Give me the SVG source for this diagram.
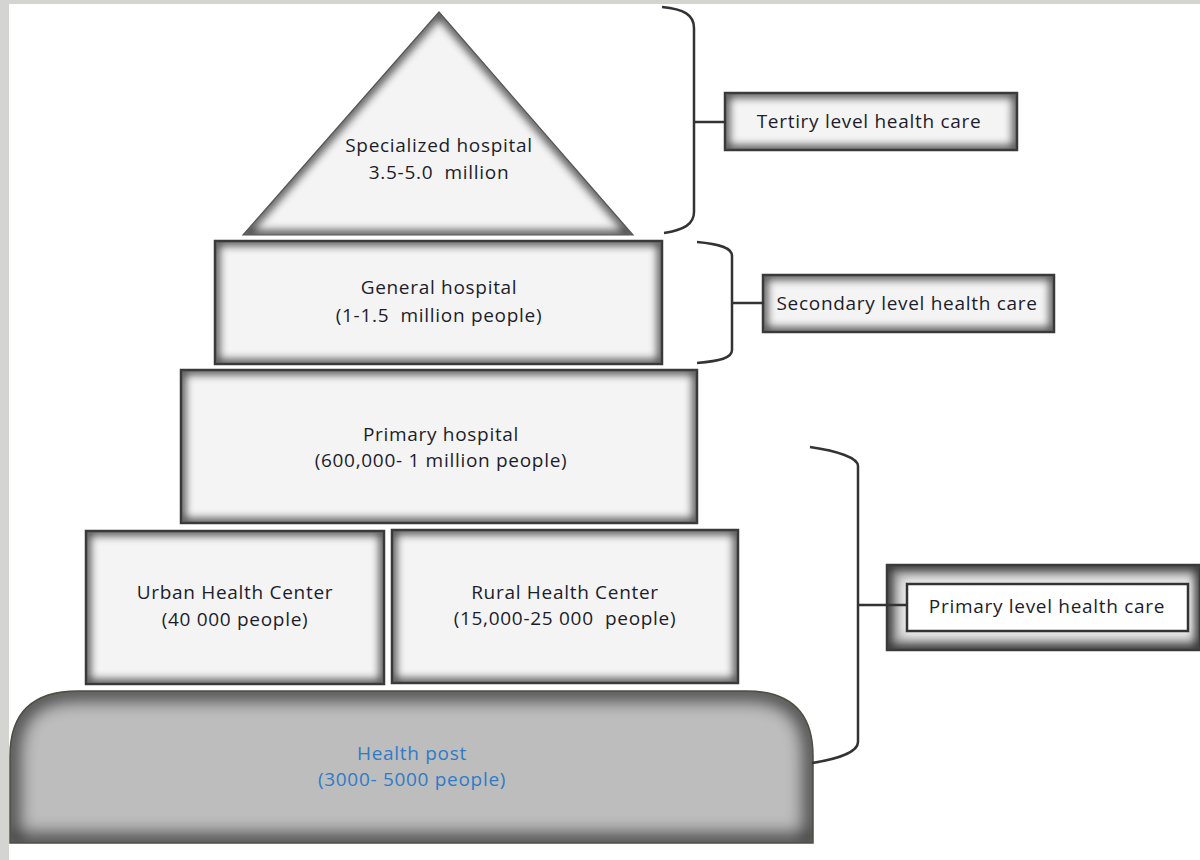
<svg xmlns="http://www.w3.org/2000/svg" width="1200" height="860" viewBox="0 0 1200 860">
<defs>
<filter id="blur" x="-10%" y="-10%" width="120%" height="120%"><feGaussianBlur stdDeviation="4"/></filter>
<filter id="blurBig" x="-10%" y="-10%" width="120%" height="120%"><feGaussianBlur stdDeviation="9"/></filter>
<filter id="glow" x="-20%" y="-50%" width="140%" height="200%"><feGaussianBlur stdDeviation="6"/></filter>
<clipPath id="cTri"><polygon points="439,12 633,235 243,235"/></clipPath>
<clipPath id="cGen"><rect x="215" y="241" width="447" height="123"/></clipPath>
<clipPath id="cPri"><rect x="181" y="370" width="516" height="153"/></clipPath>
<clipPath id="cUrb"><rect x="86" y="531" width="298" height="153"/></clipPath>
<clipPath id="cRur"><rect x="392" y="530" width="346" height="153"/></clipPath>
<clipPath id="cHP"><path d="M10 843 L10 756 Q10 691 78 691 L746 691 Q813 691 813 756 L813 843 Z"/></clipPath>
<clipPath id="cTer"><rect x="725" y="93" width="292" height="57"/></clipPath>
<clipPath id="cSec"><rect x="763" y="275" width="291" height="57"/></clipPath>
<clipPath id="cPL"><rect x="887" y="565" width="313" height="85"/></clipPath>
</defs>
<style>
.fillL{fill:#f4f4f4}
.sh{fill:none;stroke:#000;stroke-width:9;opacity:0.7;filter:url(#blur)}
.shB{fill:none;stroke:#000;stroke-width:16;opacity:0.75;filter:url(#blurBig)}
.edge{fill:none;stroke:#3a3a3a;stroke-width:2.5}
.t{font-family:"Open Sans","Liberation Sans",sans-serif;font-size:19px;letter-spacing:0.7px;fill:#1c1c2c;text-anchor:middle}
.blue{fill:#2e7bc8}
.br{fill:none;stroke:#333;stroke-width:2.5}
</style>
<rect x="0" y="0" width="1200" height="860" fill="#d4d4d0"/>
<rect x="9" y="4" width="1191" height="856" fill="#ffffff"/>

<g id="specialized">
<polygon points="439,12 633,235 243,235" class="fillL"/>
<g clip-path="url(#cTri)"><polygon points="439,12 633,235 243,235" class="sh"/></g>
<polygon points="439,12 633,235 243,235" fill="none" stroke="#555" stroke-width="1.2"/>
<text class="t" x="439" y="152">Specialized hospital</text>
<text class="t" x="439" y="179" xml:space="preserve">3.5-5.0  million</text>
</g>

<g id="general">
<rect x="215" y="241" width="447" height="123" class="fillL"/>
<g clip-path="url(#cGen)"><rect x="215" y="241" width="447" height="123" class="sh"/></g>
<rect x="215" y="241" width="447" height="123" class="edge"/>
<text class="t" x="439" y="294">General hospital</text>
<text class="t" x="439" y="322" xml:space="preserve">(1-1.5  million people)</text>
</g>

<g id="primary-hospital">
<rect x="181" y="370" width="516" height="153" class="fillL"/>
<g clip-path="url(#cPri)"><rect x="181" y="370" width="516" height="153" class="sh"/></g>
<rect x="181" y="370" width="516" height="153" class="edge"/>
<text class="t" x="441" y="441">Primary hospital</text>
<text class="t" x="441" y="467">(600,000- 1 million people)</text>
</g>

<g id="urban">
<rect x="86" y="531" width="298" height="153" class="fillL"/>
<g clip-path="url(#cUrb)"><rect x="86" y="531" width="298" height="153" class="sh"/></g>
<rect x="86" y="531" width="298" height="153" class="edge"/>
<text class="t" x="235" y="599">Urban Health Center</text>
<text class="t" x="235" y="626">(40 000 people)</text>
</g>

<g id="rural">
<rect x="392" y="530" width="346" height="153" class="fillL"/>
<g clip-path="url(#cRur)"><rect x="392" y="530" width="346" height="153" class="sh"/></g>
<rect x="392" y="530" width="346" height="153" class="edge"/>
<text class="t" x="565" y="599">Rural Health Center</text>
<text class="t" x="565" y="625" xml:space="preserve">(15,000-25 000  people)</text>
</g>

<g id="health-post">
<path d="M10 843 L10 756 Q10 691 78 691 L746 691 Q813 691 813 756 L813 843 Z" fill="#bdbdbd"/>
<g clip-path="url(#cHP)"><path d="M10 843 L10 756 Q10 691 78 691 L746 691 Q813 691 813 756 L813 843 Z" class="shB"/></g>
<path d="M10 843 L10 756 Q10 691 78 691 L746 691 Q813 691 813 756 L813 843 Z" fill="none" stroke="#4a4f40" stroke-width="1.5"/>
<text class="t blue" x="412" y="760">Health post</text>
<text class="t blue" x="412" y="786">(3000- 5000 people)</text>
</g>

<g id="tertiary">
<rect x="725" y="93" width="292" height="57" class="fillL"/>
<g clip-path="url(#cTer)"><rect x="725" y="93" width="292" height="57" class="sh"/></g>
<rect x="725" y="93" width="292" height="57" class="edge"/>
<text class="t" x="869" y="128">Tertiry level health care</text>
</g>

<g id="secondary">
<rect x="763" y="275" width="291" height="57" class="fillL"/>
<g clip-path="url(#cSec)"><rect x="763" y="275" width="291" height="57" class="sh"/></g>
<rect x="763" y="275" width="291" height="57" class="edge"/>
<text class="t" x="907" y="310">Secondary level health care</text>
</g>

<g id="primary-level">
<rect x="887" y="565" width="313" height="85" fill="#9c9c9c"/>
<rect x="899" y="576" width="297" height="63" fill="#ffffff" filter="url(#glow)" opacity="0.85"/>
<g clip-path="url(#cPL)"><rect x="887" y="565" width="313" height="85" class="sh"/></g>
<rect x="887" y="565" width="313" height="85" class="edge"/>
<rect x="907" y="584" width="281" height="47" fill="#ffffff" stroke="#333" stroke-width="2.5"/>
<text class="t" x="1047" y="613">Primary level health care</text>
</g>

<g id="connectors">
<path class="br" d="M662 7 C684 9 694 15 694 28 L694 212 C694 224 684 230 664 233"/>
<path class="br" d="M694 122 L726 122"/>
<path class="br" d="M697 242 C720 244 732 248 732 256 L732 350 C732 358 720 361 697 363"/>
<path class="br" d="M732 303 L764 303"/>
<path class="br" d="M810 447 C838 451 858 458 858 466 L858 742 C858 752 838 759 812 763"/>
<path class="br" d="M858 605 L907 605"/>
</g>
</svg>
